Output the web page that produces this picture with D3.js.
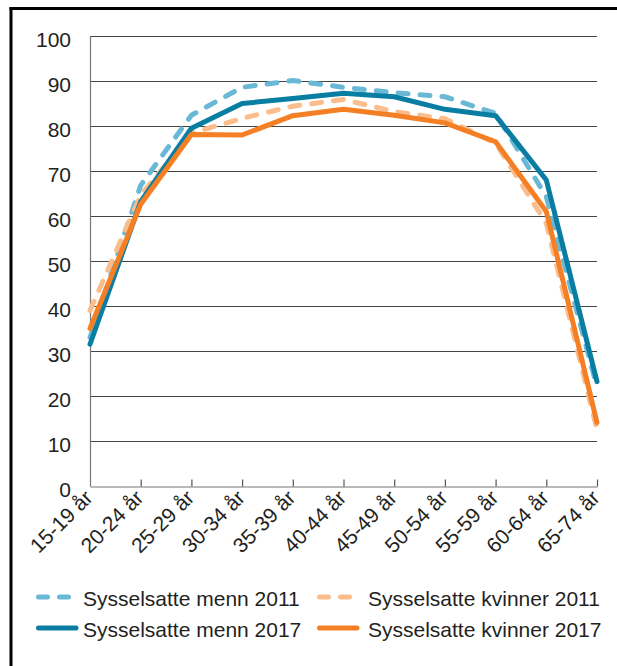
<!DOCTYPE html>
<html>
<head>
<meta charset="utf-8">
<script src="https://cdn.jsdelivr.net/npm/d3@7"></script>
<style>
  html, body { margin: 0; padding: 0; background: #fff; }
  svg { display: block; font-family: "Liberation Sans", Arial, sans-serif; }
</style>
</head>
<body>
<div id="chart"></div>
<script>
// Sysselsatte etter alder, prosent
const ageGroups = ["15-19 år", "20-24 år", "25-29 år", "30-34 år", "35-39 år", "40-44 år",
  "45-49 år", "50-54 år", "55-59 år", "60-64 år", "65-74 år"];
const menn2011 = [33, 66.8, 82.4, 88.6, 90.1, 88.6, 87.4, 86.5, 82.8, 64.3, 22];
const kvinner2011 = [39, 64.6, 78.4, 81.7, 84.4, 85.9, 83.2, 81.6, 76.2, 58.4, 12.5];
const menn2017 = [31.5, 63.2, 79.5, 85.0, 86.1, 87.3, 86.5, 83.7, 82.3, 68.0, 23.2];
const kvinner2017 = [35, 62.6, 78.1, 78.0, 82.3, 83.7, 82.4, 80.7, 76.5, 61.0, 14.1];
const yTicks = [0, 10, 20, 30, 40, 50, 60, 70, 80, 90, 100];

const series = [
  { name: "Sysselsatte menn 2011", values: menn2011, color: "#69b8d6", dashed: true },
  { name: "Sysselsatte kvinner 2011", values: kvinner2011, color: "#fbbd8c", dashed: true },
  { name: "Sysselsatte menn 2017", values: menn2017, color: "#0a7ea2", dashed: false },
  { name: "Sysselsatte kvinner 2017", values: kvinner2017, color: "#f47f24", dashed: false },
];

const width = 617, height = 666;
const margin = { top: 36, right: 20, bottom: 180, left: 90 };
const textColor = "#231f20";

const svg = d3.select("#chart").append("svg")
  .attr("width", width)
  .attr("height", height);

const x = d3.scalePoint().domain(ageGroups).range([margin.left, 597]);
const y = d3.scaleLinear().domain([0, 100]).range([486, margin.top]);

// frame (only top and left edges are visible in the crop)
svg.append("line").attr("x1", 9.5).attr("x2", width).attr("y1", 8.5).attr("y2", 8.5)
  .attr("stroke", "#000").attr("stroke-width", 3);
svg.append("line").attr("x1", 11).attr("x2", 11).attr("y1", 7).attr("y2", height)
  .attr("stroke", "#000").attr("stroke-width", 3);

// gridlines
svg.append("g")
  .selectAll("line")
  .data(yTicks.filter((d) => d > 0))
  .join("line")
  .attr("x1", margin.left)
  .attr("x2", 597)
  .attr("y1", (d) => Math.round(y(d)) + 0.5)
  .attr("y2", (d) => Math.round(y(d)) + 0.5)
  .attr("stroke", "#444")
  .attr("stroke-width", 1);

// y labels
svg.append("g")
  .selectAll("text")
  .data(yTicks)
  .join("text")
  .attr("x", 71)
  .attr("y", (d) => y(d))
  .attr("dy", "0.5em")
  .attr("text-anchor", "end")
  .attr("font-size", 21)
  .attr("fill", textColor)
  .text((d) => d);

// axes lines
svg.append("line").attr("x1", margin.left + 0.5).attr("x2", margin.left + 0.5)
  .attr("y1", margin.top).attr("y2", 486.5)
  .attr("stroke", "#777").attr("stroke-width", 1.2);

const xAxis = svg.append("g")
  .attr("transform", "translate(0,486.5)")
  .call(d3.axisBottom(x).tickSize(-7).tickSizeOuter(0).tickFormat(""));
xAxis.select(".domain").attr("stroke", "#777").attr("stroke-width", 1.2);
xAxis.selectAll(".tick line").attr("stroke", "#555").attr("stroke-width", 1.2);
xAxis.selectAll(".tick").filter((d, i) => i === 0).select("line").remove();

// x labels, rotated
svg.append("g")
  .selectAll("text")
  .data(ageGroups)
  .join("text")
  .attr("transform", (d) => `translate(${x(d) + 4},${499}) rotate(-45)`)
  .attr("text-anchor", "end")
  .attr("font-size", 21)
  .attr("fill", textColor)
  .text((d) => d);

// lines
const line = d3.line()
  .x((d, i) => x(ageGroups[i]))
  .y((d) => y(d));

svg.append("g")
  .selectAll("path")
  .data(series)
  .join("path")
  .attr("d", (d) => line(d.values))
  .attr("fill", "none")
  .attr("stroke", (d) => d.color)
  .attr("stroke-width", 5)
  .attr("stroke-linejoin", "round")
  .attr("stroke-linecap", "round")
  .attr("stroke-dasharray", (d) => (d.dashed ? "10,12" : null));

// legend
const legendPos = [
  { x: 36, y: 597 },   // menn 2011
  { x: 317, y: 597 },  // kvinner 2011
  { x: 36, y: 628 },   // menn 2017
  { x: 317, y: 628 },  // kvinner 2017
];

const legend = svg.append("g")
  .selectAll("g")
  .data(series)
  .join("g")
  .attr("transform", (d, i) => `translate(${legendPos[i].x},${legendPos[i].y})`);

legend.append("line")
  .attr("x1", 2.5)
  .attr("x2", (d) => (d.dashed ? 36 : 40))
  .attr("stroke", (d) => d.color)
  .attr("stroke-width", 5)
  .attr("stroke-linecap", "round")
  .attr("stroke-dasharray", (d) => (d.dashed ? "9,12" : null));

legend.append("text")
  .attr("x", (d, i) => (i % 2 === 0 ? 47 : 51))
  .attr("y", 9)
  .attr("font-size", 21)
  .attr("fill", textColor)
  .text((d) => d.name);
</script>
</body>
</html>
